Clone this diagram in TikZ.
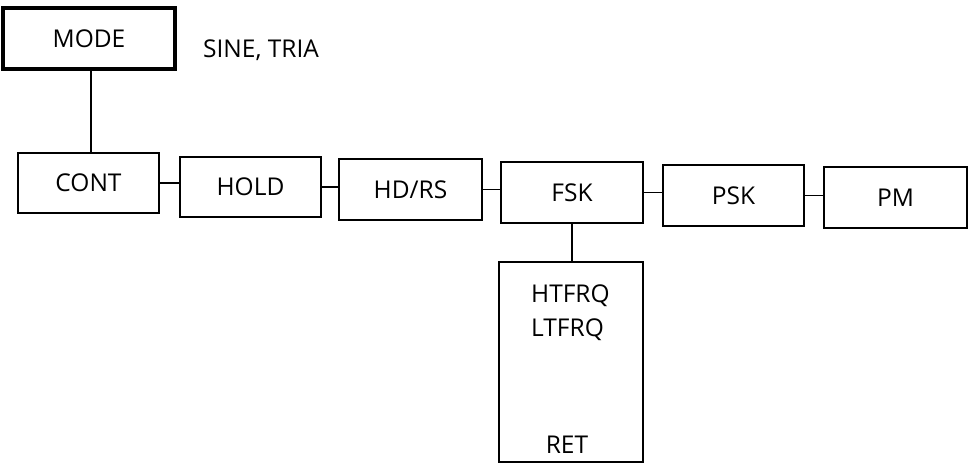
\documentclass[tikz,border=0pt]{standalone}
\usepackage{fontspec}
\setmainfont{Open Sans}
\begin{document}
\begin{tikzpicture}[x=1pt,y=-1pt,
  txt/.style={inner sep=0pt, font=\fontsize{24.5}{28}\selectfont},
  box/.style={txt, draw, line width=2pt, minimum width=142pt, minimum height=61pt},
  thickbox/.style={box, line width=4pt},
  conn/.style={line width=1.9pt}]
\useasboundingbox (0,0) rectangle (971,476);
\node[thickbox, minimum width=172pt, minimum height=61pt] (mode) at (89,38.5) {MODE};
\node[txt, anchor=base west] (sine) at (203,58) {SINE, TRIA};
\node[box, minimum width=141pt, minimum height=60pt] (cont) at (88.5,183) {CONT};
\node[box, minimum width=141pt, minimum height=60pt] (hold) at (250.5,187) {HOLD};
\node[box, minimum width=143pt] (hdrs) at (410.5,189.5) {HD/RS};
\node[box] (fsk) at (572,192.5) {FSK};
\node[box, minimum width=141pt] (psk) at (733.5,195.5) {PSK};
\node[box, minimum width=143pt] (pm) at (895.5,197.5) {PM};
\node[box, minimum width=144pt, minimum height=200pt] (retbox) at (571,362) {};
\node[txt, anchor=base west] (htfrq) at (531,302) {HTFRQ};
\node[txt, anchor=base west] (ltfrq) at (531,336) {LTFRQ};
\node[txt, anchor=base] (ret) at (567,453) {RET};
\draw[conn] ([xshift=2pt]mode.south) -- ([xshift=2pt]mode.south |- cont.north);
\draw[conn] (cont.east) -- (cont.east -| hold.west);
\draw[conn] (hold.east) -- (hold.east -| hdrs.west);
\draw[conn] (hdrs.east) -- (hdrs.east -| fsk.west);
\draw[conn] (fsk.east) -- (fsk.east -| psk.west);
\draw[conn] (psk.east) -- (psk.east -| pm.west);
\draw[conn] (fsk.south) -- (fsk.south |- retbox.north);
\end{tikzpicture}
\end{document}
